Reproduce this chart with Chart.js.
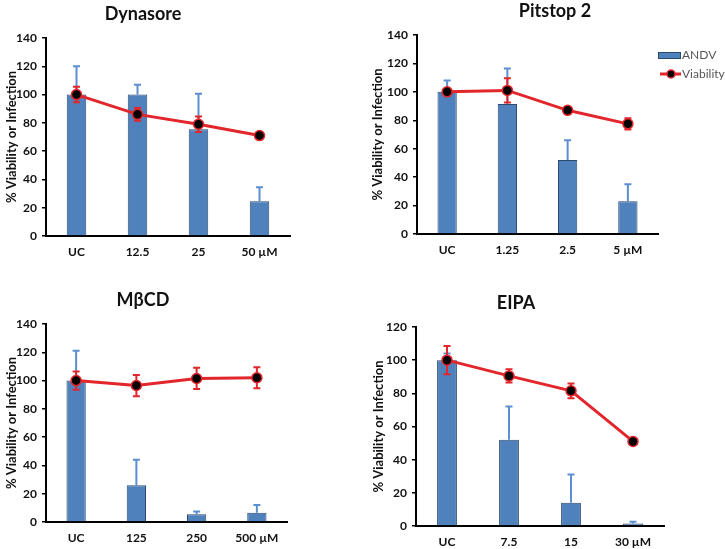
<!DOCTYPE html>
<html>
<head>
<script src="https://cdn.jsdelivr.net/npm/chart.js@4.4.0/dist/chart.umd.min.js"></script>
<style>
  body { margin: 0; background: #fff; width: 725px; height: 549px; position: relative; overflow: hidden; }
  canvas { position: absolute; }
  .ttl { position: absolute; font: bold 18px Lato, sans-serif; color: #111; transform: translate(-50%, -50%); white-space: nowrap; }
</style>
</head>
<body>
<canvas id="c1" style="left:0;top:0" width="362" height="270"></canvas>
<canvas id="c2" style="left:362px;top:0" width="363" height="270"></canvas>
<canvas id="c3" style="left:0;top:270px" width="362" height="279"></canvas>
<canvas id="c4" style="left:362px;top:270px" width="363" height="279"></canvas>
<div class="ttl" style="left:143px;top:13px">Dynasore</div>
<div class="ttl" style="left:555px;top:10px">Pitstop 2</div>
<div class="ttl" style="left:143px;top:299px">MβCD</div>
<div class="ttl" style="left:516px;top:302px">EIPA</div>
<script>
// Dynasore
var dynLabels = ['UC', '12.5', '25', '50 µM'];
var dynANDV = [100, 100, 75.5, 24.5];
var dynANDVsd = [20, 7, 25, 10];
var dynViab = [100, 86, 79, 71];
var dynViabSd = [5.5, 4.5, 5.5, 1];

// Pitstop 2
var pitLabels = ['UC', '1.25', '2.5', '5 µM'];
var pitANDV = [100, 91.5, 52, 23];
var pitANDVsd = [8, 25, 14, 12];
var pitViab = [100, 101, 87, 77.5];
var pitViabSd = [1.5, 8.5, 1.5, 4];

// MbCD
var mbcdLabels = ['UC', '125', '250', '500 µM'];
var mbcdANDV = [100, 26, 5.5, 6.5];
var mbcdANDVsd = [21, 18, 2, 5.5];
var mbcdViab = [100, 96.5, 101.5, 102];
var mbcdViabSd = [6.5, 7.5, 7.5, 7.5];

// EIPA
var eipaLabels = ['UC', '7.5', '15', '30 µM'];
var eipaANDV = [100, 52, 14, 1.5];
var eipaANDVsd = [4, 20, 17, 1];
var eipaViab = [100, 90.5, 81.5, 51];
var eipaViabSd = [8.5, 4, 4.5, 2];

var blue = '#4F81BD';
var red = '#E3262B';
var yTitle = '% Viability or Infection';

function drawErr(chart, idx, color, upOnly) {
  var ds = chart.data.datasets[idx];
  var meta = chart.getDatasetMeta(idx);
  var y = chart.scales.y;
  var ctx = chart.ctx;
  ctx.save();
  ctx.strokeStyle = color;
  ctx.lineWidth = 2;
  meta.data.forEach(function (el, i) {
    var v = ds.data[i];
    var top = y.getPixelForValue(v + ds.errors[i]);
    var bot = upOnly ? y.getPixelForValue(v) : y.getPixelForValue(v - ds.errors[i]);
    ctx.beginPath();
    ctx.moveTo(el.x, top); ctx.lineTo(el.x, bot);
    ctx.moveTo(el.x - 3.5, top); ctx.lineTo(el.x + 3.5, top);
    if (!upOnly) { ctx.moveTo(el.x - 3.5, bot); ctx.lineTo(el.x + 3.5, bot); }
    ctx.stroke();
  });
  ctx.restore();
}

var errorBars = {
  id: 'errorBars',
  afterDatasetDraw: function (chart, args) {
    if (chart.data.datasets[args.index].type === 'bar') drawErr(chart, args.index, '#5B8FD1', true);
  },
  beforeDatasetDraw: function (chart, args) {
    if (chart.data.datasets[args.index].type === 'line') drawErr(chart, args.index, red, false);
  }
};

// legend beside the Pitstop 2 panel
var sideLegend = {
  id: 'sideLegend',
  afterDraw: function (chart) {
    var ctx = chart.ctx;
    ctx.save();
    ctx.fillStyle = blue;
    ctx.strokeStyle = '#2C4A6E';
    ctx.lineWidth = 1;
    ctx.fillRect(296, 52, 22, 6);
    ctx.strokeRect(296.5, 52.5, 22, 6);
    ctx.strokeStyle = red;
    ctx.lineWidth = 3;
    ctx.beginPath(); ctx.moveTo(298, 74); ctx.lineTo(319, 74); ctx.stroke();
    ctx.fillStyle = '#000';
    ctx.lineWidth = 1.5;
    ctx.beginPath(); ctx.arc(309, 74, 4, 0, Math.PI * 2); ctx.fill(); ctx.stroke();
    ctx.fillStyle = '#555';
    ctx.font = '12px Lato, sans-serif';
    ctx.textBaseline = 'middle';
    ctx.fillText('ANDV', 320, 55);
    ctx.fillText('Viability', 320, 74);
    ctx.restore();
  }
};

function panel(id, labels, andv, andvSd, viab, viabSd, yMax, box, titlePad, extra) {
  var cv = document.getElementById(id);
  var W = cv.width, H = cv.height;
  var font = { family: 'Lato, sans-serif', weight: 'bold', size: 12 };
  return new Chart(cv, {
    type: 'bar',
    data: {
      labels: labels,
      datasets: [
        { type: 'line', label: 'Viability', data: viab, errors: viabSd, order: 0,
          borderColor: red, borderWidth: 3, pointRadius: 5, pointBackgroundColor: '#000',
          pointBorderColor: red, pointBorderWidth: 1.5, tension: 0 },
        { type: 'bar', label: 'ANDV', data: andv, errors: andvSd, order: 1,
          backgroundColor: blue, borderColor: '#2C4A6E', borderWidth: 1,
          barPercentage: 0.32, categoryPercentage: 1 }
      ]
    },
    options: {
      responsive: false,
      animation: false,
      layout: { padding: { left: 0, top: box.top, right: W - box.right, bottom: 0 } },
      plugins: { legend: { display: false }, tooltip: { enabled: false } },
      scales: {
        x: {
          grid: { display: false, drawTicks: false, tickLength: 0 },
          border: { color: '#000', width: 2 },
          ticks: { color: '#111', font: font, padding: 9 },
          afterFit: function (s) { s.height = H - box.bottom; }
        },
        y: {
          min: 0, max: yMax,
          ticks: { stepSize: 20, color: '#111', font: font, padding: 5 },
          grid: { drawOnChartArea: false, tickLength: 4, color: '#000', lineWidth: 1.5 },
          border: { color: '#000', width: 2 },
          title: { display: true, text: yTitle, color: '#111', font: { family: 'Lato, sans-serif', weight: 'bold', size: 13 }, padding: { top: titlePad, bottom: 0 } },
          afterFit: function (s) { s.width = box.left; }
        }
      }
    },
    plugins: extra ? [errorBars, extra] : [errorBars]
  });
}

panel('c1', dynLabels, dynANDV, dynANDVsd, dynViab, dynViabSd, 140, { left: 46, right: 290, top: 38, bottom: 236 }, 4);
panel('c2', pitLabels, pitANDV, pitANDVsd, pitViab, pitViabSd, 140, { left: 55, right: 296, top: 35, bottom: 234 }, 8, sideLegend);
panel('c3', mbcdLabels, mbcdANDV, mbcdANDVsd, mbcdViab, mbcdViabSd, 140, { left: 46, right: 287, top: 54, bottom: 252 }, 4);
panel('c4', eipaLabels, eipaANDV, eipaANDVsd, eipaViab, eipaViabSd, 120, { left: 54, right: 302, top: 57, bottom: 256 }, 9);
</script>
</body>
</html>
